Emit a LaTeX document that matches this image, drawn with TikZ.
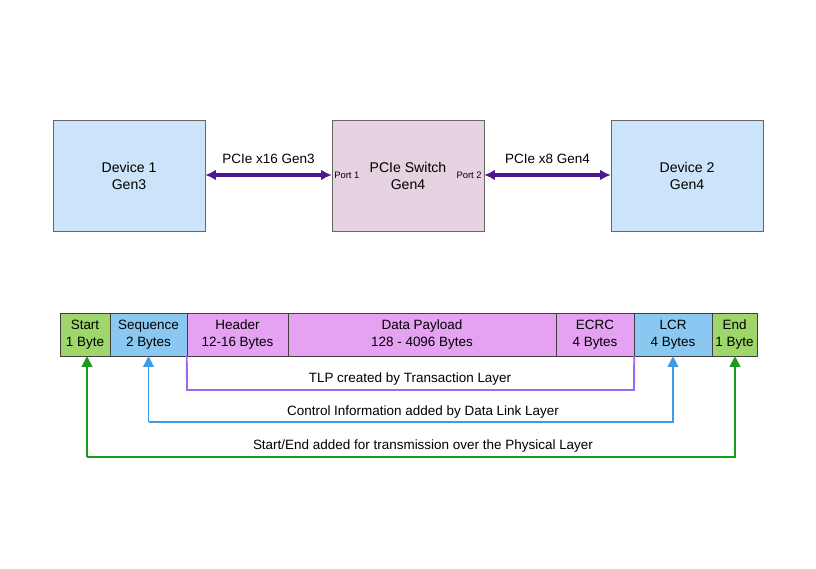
\documentclass[tikz,border=0pt]{standalone}
\usepackage{fontspec}
\setmainfont{Liberation Sans}
\usetikzlibrary{arrows.meta}
\definecolor{devblue}{HTML}{CCE4FA}
\definecolor{swpink}{HTML}{E6D2E0}
\definecolor{linkviolet}{HTML}{4E1791}
\definecolor{cgreen}{HTML}{9FD66B}
\definecolor{cblue}{HTML}{8AC8F2}
\definecolor{cpink}{HTML}{E6A2F2}
\definecolor{tlpline}{HTML}{9C68EC}
\definecolor{dllline}{HTML}{3D9BE8}
\definecolor{phyline}{HTML}{1A9A1A}
\tikzset{
  dev/.style={draw=gray!80!black, minimum width=4.56cm, minimum height=3.33cm, font=\fontsize{12}{14.5}\selectfont, align=center},
  cell/.style={draw=black!75, minimum height=1.29cm, inner sep=0pt, font=\fontsize{11.5}{14}\selectfont, align=center},
  link/.style={linkviolet, line width=3pt, {Latex[length=9pt,width=9pt]}-{Latex[length=9pt,width=9pt]}},
  lbl/.style={font=\fontsize{11.5}{13}\selectfont, text=black}
}
\begin{document}
\begin{tikzpicture}[x=0.03cm, y=-0.03cm]
\useasboundingbox (0,0) rectangle (816,569);
% devices
\node[dev, fill=devblue] (dev1) at (129,175.5) {Device 1\\Gen3};
\node[dev, fill=swpink] (sw) at (408,175.5) {PCIe Switch\\Gen4};
\node[dev, fill=devblue] (dev2) at (687,175.5) {Device 2\\Gen4};
\node[font=\fontsize{8}{9}\selectfont, anchor=west, inner sep=1pt] (p1) at (333,175) {Port 1};
\node[font=\fontsize{8}{9}\selectfont, anchor=east, inner sep=1pt] (p2) at (483,175) {Port 2};
\draw[link] (dev1.east |- p1) -- node[lbl, above=5pt] {PCIe x16 Gen3} (sw.west |- p1);
\draw[link] (sw.east |- p2) -- node[lbl, above=5pt] {PCIe x8 Gen4} (dev2.west |- p2);
% packet
\node[cell, fill=cgreen, minimum width=1.5cm] (start) at (85,334.5) {Start\\1 Byte};
\node[cell, fill=cblue, minimum width=2.31cm] (seq) at (148.5,334.5) {Sequence\\2 Bytes};
\node[cell, fill=cpink, minimum width=3.03cm] (hdr) at (237.5,334.5) {Header\\12-16 Bytes};
\node[cell, fill=cpink, minimum width=8.04cm] (data) at (422,334.5) {Data Payload\\128 - 4096 Bytes};
\node[cell, fill=cpink, minimum width=2.34cm] (ecrc) at (595,334.5) {ECRC\\4 Bytes};
\node[cell, fill=cblue, minimum width=2.34cm] (lcr) at (673,334.5) {LCR\\4 Bytes};
\node[cell, fill=cgreen, minimum width=1.35cm] (end) at (734.5,334.5) {End\\1 Byte};
% layers
\coordinate (tl) at (187,390);
\coordinate (tr) at (634,390);
\draw[tlpline, line width=1.6pt] (hdr.south west) -- (tl) -- (tr) -- (ecrc.south east);
\node[lbl] at (410,379) {TLP created by Transaction Layer};
\coordinate (bl) at (148.5,422);
\coordinate (br) at (673,422);
\draw[dllline, line width=1.6pt, -{Triangle[length=9pt,width=9pt]}] (bl) -- (br) -- (lcr.south);
\draw[dllline, line width=1.6pt, -{Triangle[length=9pt,width=9pt]}] (bl) -- (seq.south);
\node[lbl] at (423,412) {Control Information added by Data Link Layer};
\coordinate (gl) at (87,457);
\coordinate (gr) at (735,457);
\draw[phyline, line width=1.6pt, -{Triangle[length=9pt,width=9pt]}] (gl) -- (gr) -- (end.south -| gr);
\draw[phyline, line width=1.6pt, -{Triangle[length=9pt,width=9pt]}] (gl) -- (start.south -| gl);
\node[lbl] at (423,446) {Start/End added for transmission over the Physical Layer};
\end{tikzpicture}
\end{document}
